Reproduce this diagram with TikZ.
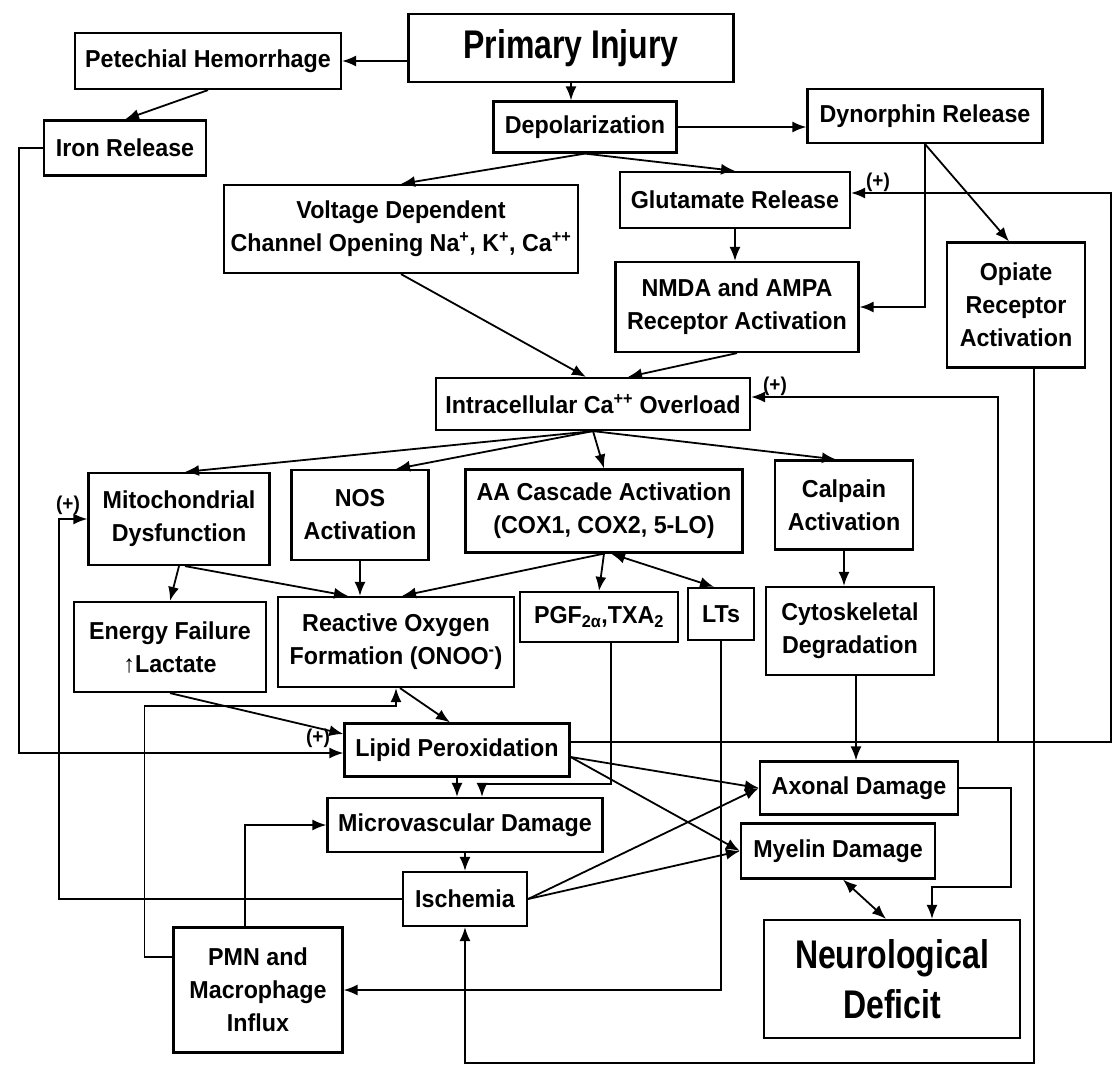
\documentclass[tikz,border=0pt]{standalone}
\usepackage{fontspec}
\setmainfont{Liberation Sans}
\newfontfamily\bodyfam[FakeStretch=0.95]{Liberation Sans}
\newfontfamily\bigfam[FakeStretch=0.8]{Liberation Sans}
\usetikzlibrary{arrows.meta}
\newcommand{\bodyfnt}{\bodyfam\bfseries\fontsize{24.5}{33}\selectfont}
\newcommand{\bigfnt}{\bigfam\bfseries\fontsize{40}{50}\selectfont}
\newcommand{\plusfnt}{\bodyfam\bfseries\fontsize{20}{22}\selectfont}
\begin{document}
\begin{tikzpicture}[x=1pt,y=-1pt,
  box/.style={draw, line width=2.2pt, align=center, inner sep=0pt, font=\bodyfnt},
  bigbox/.style={box, font=\bigfnt},
  arr/.style={-{Latex[length=14pt,width=11pt]}, line width=1.8pt},
  dbl/.style={{Latex[length=14pt,width=11pt]}-{Latex[length=14pt,width=11pt]}, line width=1.8pt},
  plus/.style={font=\plusfnt, inner sep=0pt}]
\fill[white] (0,0) rectangle (1117,1066);
\useasboundingbox (0,0) rectangle (1117,1066);

% nodes
\node[bigbox, minimum width=325pt, minimum height=68pt] (pi) at (571,48) {Primary Injury};
\node[box, minimum width=266pt, minimum height=56pt] (pet) at (208,61) {Petechial Hemorrhage};
\node[box, minimum width=162pt, minimum height=55pt] (iron) at (125,148) {Iron Release};
\node[box, minimum width=183pt, minimum height=51pt] (dep) at (585,127) {Depolarization};
\node[box, minimum width=235pt, minimum height=54pt] (dyn) at (925,116) {Dynorphin Release};
\node[box, minimum width=354pt, minimum height=88pt] (volt) at (401,229) {Voltage Dependent\\Channel Opening Na\textsuperscript{+}, K\textsuperscript{+}, Ca\textsuperscript{++}};
\node[box, minimum width=230pt, minimum height=56pt] (glu) at (735,200) {Glutamate Release};
\node[box, minimum width=243pt, minimum height=90pt] (nmda) at (737,307) {NMDA and AMPA\\Receptor Activation};
\node[box, minimum width=138pt, minimum height=125pt] (opi) at (1016,305) {Opiate\\Receptor\\Activation};
\node[box, minimum width=314pt, minimum height=52pt] (ca) at (593,404) {Intracellular Ca\textsuperscript{++} Overload};
\node[box, minimum width=181pt, minimum height=92pt] (mito) at (179,519) {Mitochondrial\\Dysfunction};
\node[box, minimum width=137pt, minimum height=90pt] (nos) at (360,515) {NOS\\Activation};
\node[box, minimum width=277pt, minimum height=83pt] (aa) at (604,511) {AA Cascade Activation\\(COX1, COX2, 5-LO)};
\node[box, minimum width=138pt, minimum height=89pt] (cal) at (844,505) {Calpain\\Activation};
\node[box, minimum width=192pt, minimum height=90pt] (energy) at (170,647) {Energy Failure\\↑Lactate};
\node[box, minimum width=236pt, minimum height=90pt] (ros) at (396,642) {Reactive Oxygen\\Formation (ONOO\textsuperscript{-})};
\node[box, minimum width=158pt, minimum height=50pt] (pgf) at (599,617) {PGF\textsubscript{2α},TXA\textsubscript{2}};
\node[box, minimum width=66pt, minimum height=52pt] (lts) at (721,614) {LTs};
\node[box, minimum width=168pt, minimum height=88pt] (cyto) at (850,631) {Cytoskeletal\\Degradation};
\node[box, minimum width=225pt, minimum height=53pt] (lipid) at (457,750) {Lipid Peroxidation};
\node[box, minimum width=275pt, minimum height=54pt] (mic) at (465,825) {Microvascular Damage};
\node[box, minimum width=124pt, minimum height=54pt] (isch) at (465,899) {Ischemia};
\node[box, minimum width=169pt, minimum height=125pt] (pmn) at (258,990) {PMN and\\Macrophage\\Influx};
\node[box, minimum width=198pt, minimum height=53pt] (axo) at (859,788) {Axonal Damage};
\node[box, minimum width=194pt, minimum height=55pt] (mye) at (838,851) {Myelin Damage};
\node[bigbox, minimum width=256pt, minimum height=118pt] (neu) at (892,979) {Neurological\\Deficit};

% (+) labels
\node[plus] (p1) at (878,182) {(+)};
\node[plus] (p2) at (775,386) {(+)};
\node[plus] (p3) at (68,505) {(+)};
\node[plus] (p4) at (318,738) {(+)};

% bend points
\coordinate (rb) at (1111,742);
\coordinate (cb) at (998,742);

% connectors
\draw[arr] (pi.west |- pet.east) -- (pet.east);
\draw[arr] (pi.south) -- (pi.south |- dep.north);
\draw[arr] (pet.south) -- (iron.north);
\draw[arr] (iron.west) -- ++(-24,0) |- ([yshift=-3pt]lipid.west);
\draw[arr] (dep.east) -- (dep.east -| dyn.west);
\draw[arr] (dep.south) -- (volt.north);
\draw[arr] (dep.south) -- (glu.north);
\draw[arr] (glu.south) -- (glu.south |- nmda.north);
\draw[arr] (dyn.south) -- ([xshift=-7pt]opi.north);
\draw[arr] (dyn.south) |- (nmda.east);
\draw[arr] (nmda.south) -- ([xshift=35pt]ca.north);
\draw[arr] (volt.south) -- ([xshift=-7pt]ca.north);
\draw[arr] (ca.south) -- ([xshift=6pt]mito.north);
\draw[arr] (ca.south) -- ([xshift=36pt]nos.north);
\draw[arr] (ca.south) -- (aa.north);
\draw[arr] (ca.south) -- ([xshift=-8pt]cal.north);
\draw[arr] (mito.south) -- (energy.north);
\draw[arr] ([xshift=6pt]mito.south) -- ([xshift=-48pt]ros.north);
\draw[arr] (nos.south) -- (nos.south |- ros.north);
\draw[arr] (aa.south) -- ([xshift=6pt]ros.north);
\draw[arr] (aa.south) -- (pgf.north);
\draw[dbl] ([xshift=7pt]aa.south) -- ([xshift=-7pt]lts.north);
\draw[arr] (cal.south) -- (cal.south |- cyto.north);
\draw[arr] ([xshift=6pt]cyto.south) -- ([xshift=6pt]cyto.south |- axo.north);
\draw[arr] ([xshift=12pt]pgf.south) -- ++(0,141) -| ([xshift=17pt]mic.north);
\draw[arr] (lts.south) |- (pmn.east);
\draw[arr] (energy.south) -- ([yshift=16pt]lipid.west);
\draw[arr] ([xshift=4pt]ros.south) -- ([xshift=-7pt]lipid.north);
\draw[arr] ([yshift=33pt]pmn.west) -- ++(-28,0) -- ++(0,-251) -| (ros.south);
\draw[arr] ([xshift=-13pt]pmn.north) |- (mic.west);
\draw[arr] (mic.south) -- (isch.north);
\draw[arr] (lipid.south) -- (lipid.south |- mic.north);
\draw[arr] (isch.west) -- ++(-343,0) |- (mito.west);
\draw[arr] (isch.east) -- (axo.west);
\draw[arr] (isch.east) -- (mye.west);
\draw[arr] ([yshift=-7pt]lipid.east) -- (axo.west);
\draw[arr] ([yshift=-7pt]lipid.east) -- (mye.west);
\draw[arr] ([yshift=8pt]lipid.east) -- (rb) |- ([yshift=7pt]glu.east);
\draw[arr] (cb) |- ([yshift=7pt]ca.east);
\draw[arr] (axo.east) -| (1011,887) -| ([xshift=40pt]neu.north);
\draw[dbl] ([xshift=5pt]mye.south) -- ([xshift=-6pt]neu.north);
\draw[arr] ([xshift=18pt]opi.south) -- ++(0,694) -| (isch.south);
\end{tikzpicture}
\end{document}
